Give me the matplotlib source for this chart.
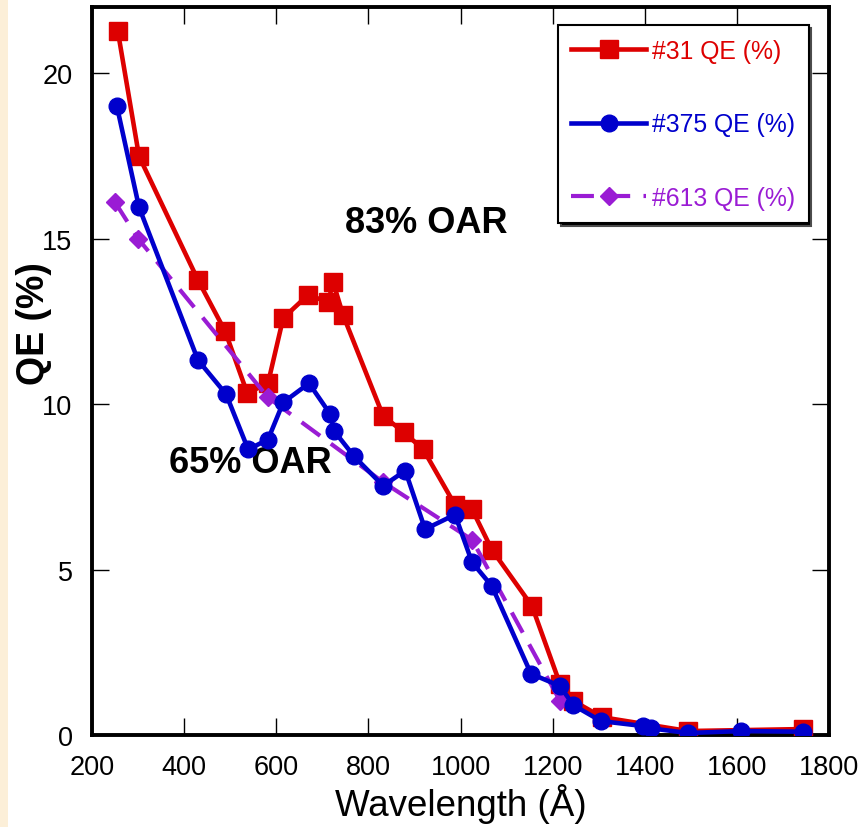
import matplotlib

matplotlib.use("Agg")
import matplotlib.pyplot as plt  # noqa: E402
from matplotlib.lines import Line2D  # noqa: E402
from matplotlib.patches import Rectangle  # noqa: E402

# QE curves for three photocathode samples, wavelength in Angstrom
wl_31 = [256, 302, 430, 489, 537, 582, 615, 669, 713, 723, 745, 832, 877, 919,
         988, 1025, 1068, 1155, 1216, 1245, 1307, 1494, 1744]
qe_31 = [21.27, 17.49, 13.75, 12.2, 10.33, 10.63, 12.6, 13.3, 13.08, 13.7, 12.69,
         9.64, 9.15, 8.63, 6.95, 6.82, 5.6, 3.9, 1.54, 1.03, 0.54, 0.12, 0.18]

wl_375 = [254, 302, 430, 491, 539, 582, 615, 671, 717, 726, 769, 832, 880, 923,
          988, 1025, 1068, 1153, 1216, 1245, 1305, 1397, 1414, 1494, 1609, 1744]
qe_375 = [19.0, 15.95, 11.33, 10.3, 8.63, 8.93, 10.05, 10.63, 9.7, 9.18, 8.42,
          7.53, 7.99, 6.22, 6.66, 5.22, 4.5, 1.85, 1.48, 0.9, 0.42, 0.27, 0.2,
          0.06, 0.12, 0.1]

wl_613 = [250, 300, 582, 832, 1025, 1216]
qe_613 = [16.1, 15.0, 10.2, 7.64, 5.9, 1.03]

labels = ["#31 QE (%)", "#375 QE (%)", "#613 QE (%)"]
notes = [("83% OAR", 925, 15.5), ("65% OAR", 543, 8.25)]

RED = "#dd0000"
BLUE = "#0000cc"
PURPLE = "#9a1cd4"
FONT = "Liberation Sans"

plt.rcParams["font.family"] = [FONT, "DejaVu Sans"]

fig = plt.figure(figsize=(8.61, 8.28), dpi=100)
fig.patches.append(Rectangle((0, 0), 8 / 861, 1, transform=fig.transFigure,
                             facecolor="#fcefd8", edgecolor="none", zorder=0))
ax = fig.add_axes([0.1069, 0.1111, 0.8560, 0.8792])

red_style = dict(color=RED, lw=3.3, marker="s", ms=13)
blue_style = dict(color=BLUE, lw=3.3, marker="o", ms=12)
purple_style = dict(color=PURPLE, lw=3.0, marker="D", ms=9.5, dashes=(5.5, 3.2))

ax.plot(wl_31, qe_31, zorder=3, **red_style)
ax.plot(wl_613, qe_613, zorder=4, **purple_style)
ax.plot(wl_375, qe_375, zorder=5, **blue_style)

for txt, x, y in notes:
    ax.text(x, y, txt, fontsize=26, fontweight="bold", ha="center", va="center")

ax.set_xlim(200, 1800)
ax.set_ylim(0, 22)
ax.set_xticks(range(200, 1801, 200))
ax.set_yticks(range(0, 21, 5))
ax.tick_params(direction="in", length=12, width=1, top=True, right=True,
               labelsize=19.5, pad=14)
for s in ax.spines.values():
    s.set_linewidth(2.8)

ax.set_xlabel("Wavelength (Å)", fontsize=26.5, labelpad=2)
ax.set_ylabel("QE (%)", fontsize=27, fontweight="bold")
ax.yaxis.set_label_coords(-0.055, 0.567)

handles = [Line2D([], [], **red_style), Line2D([], [], **blue_style),
           Line2D([], [], **purple_style)]
leg = ax.legend(handles, labels, loc="upper left", bbox_to_anchor=(0.632, 0.975),
                borderaxespad=0, fontsize=17.8, labelcolor="linecolor",
                labelspacing=2.0, handlelength=3.0, handletextpad=0.25,
                borderpad=0.55, fancybox=False, framealpha=1, edgecolor="black",
                shadow={"facecolor": "black", "alpha": 1.0})
leg.get_frame().set_linewidth(1.5)

fig.savefig("out.png", dpi=100)
